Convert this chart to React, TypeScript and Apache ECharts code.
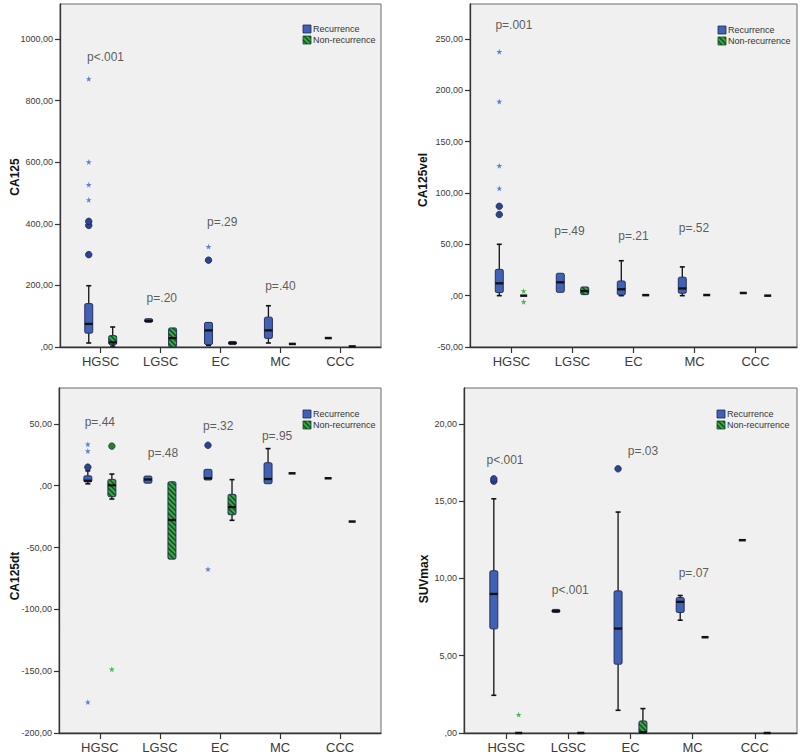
import React, { useEffect, useRef } from 'react';
import * as echarts from 'echarts';

const categories = ['HGSC', 'LGSC', 'EC', 'MC', 'CCC'];
const groups = ['Recurrence', 'Non-recurrence'];

// Box stats per category: [min, q1, median, q3, max]
const ca125Rec = [[13, 45, 75, 141, 199], [80, 80, 85, 92, 92], [5, 8, 54, 80, 80], [13, 28, 54, 97, 134], [29, 29, 29, 29, 29]];
const ca125Non = [[3, 8, 15, 37, 65], [0, 0, 29, 62, 62], [8, 8, 13, 18, 18], [10, 10, 10, 10, 10], [2, 2, 2, 2, 2]];
const ca125RecCircles = [['HGSC', 300], ['HGSC', 395], ['HGSC', 408], ['EC', 282]];
const ca125RecStars = [['HGSC', 478], ['HGSC', 527], ['HGSC', 601], ['HGSC', 871], ['EC', 326]];
const ca125NonCircles: any[] = [];
const ca125NonStars: any[] = [];
const ca125PText = ['p<.001', 'p=.20', 'p=.29', 'p=.40'];
const ca125PAt = [[0.08, 942], [1.02, 159], [2.03, 406], [3.0, 198]];
const ca125Ticks = [0, 200, 400, 600, 800, 1000];

const velRec = [[0, 3, 12, 25.6, 50], [3.2, 3.2, 13, 21.8, 21.8], [0, 0.6, 6.2, 14.3, 34], [0, 2.3, 7, 18, 28], [2.6, 2.6, 2.6, 2.6, 2.6]];
const velNon = [[0, 0, 0, 0, 0], [1, 1, 4.5, 8.5, 8.5], [0.5, 0.5, 0.5, 0.5, 0.5], [0.6, 0.6, 0.6, 0.6, 0.6], [0, 0, 0, 0, 0]];
const velRecCircles = [['HGSC', 79], ['HGSC', 87]];
const velRecStars = [['HGSC', 104.5], ['HGSC', 126.6], ['HGSC', 189], ['HGSC', 237.6]];
const velNonCircles: any[] = [];
const velNonStars = [['HGSC', 4.5], ['HGSC', -6]];
const velPText = ['p=.001', 'p=.49', 'p=.21', 'p=.52'];
const velPAt = [[0.04, 264], [0.95, 63], [2.0, 58], [2.99, 66]];
const velTicks = [-50, 0, 50, 100, 150, 200, 250];

const dtRec = [[1.5, 3, 4, 8, 12], [2, 2, 5, 7.8, 7.8], [4.6, 4.6, 6, 13.2, 13.2], [1.6, 1.6, 5.4, 18.6, 30], [6, 6, 6, 6, 6]];
const dtNon = [[-10.8, -8.9, 0.3, 5.1, 9.4], [-59.4, -59.4, -27.8, 3.2, 3.2], [-28, -23.5, -17.3, -7, 4.9], [10, 10, 10, 10, 10], [-29, -29, -29, -29, -29]];
const dtRecCircles = [['HGSC', 15], ['EC', 32.7]];
const dtRecStars = [['HGSC', 28], ['HGSC', 33.5], ['HGSC', -175], ['EC', -67.5]];
const dtNonCircles = [['HGSC', 32]];
const dtNonStars = [['HGSC', -148.5]];
const dtPText = ['p=.44', 'p=.48', 'p=.32', 'p=.95'];
const dtPAt = [[0.0, 51.5], [1.05, 26.5], [1.97, 48.3], [2.95, 40.2]];
const dtTicks = [-200, -150, -100, -50, 0, 50];

const suvRec = [[2.44, 6.74, 9.0, 10.5, 15.16], [7.8, 7.8, 7.9, 8.0, 8.0], [1.47, 4.45, 6.76, 9.2, 14.3], [7.3, 7.8, 8.49, 8.77, 8.9], [12.48, 12.48, 12.48, 12.48, 12.48]];
const suvNon = [[0, 0, 0, 0, 0], [0, 0, 0, 0, 0], [0, 0, 0.05, 0.78, 1.58], [6.2, 6.2, 6.2, 6.2, 6.2], [0, 0, 0, 0, 0]];
const suvRecCircles = [['HGSC', 16.3], ['HGSC', 16.45], ['EC', 17.1]];
const suvRecStars: any[] = [];
const suvNonCircles: any[] = [];
const suvNonStars = [['HGSC', 1.19]];
const suvPText = ['p<.001', 'p<.001', 'p=.03', 'p=.07'];
const suvPAt = [[-0.02, 17.7], [1.03, 9.26], [2.2, 18.25], [3.02, 10.36]];
const suvTicks = [0, 5, 10, 15, 20];

const panelData = [
  { name: 'CA125', rec: ca125Rec, non: ca125Non, recC: ca125RecCircles, recS: ca125RecStars, nonC: ca125NonCircles, nonS: ca125NonStars, pText: ca125PText, pAt: ca125PAt, ticks: ca125Ticks, min: 0, max: 1114 },
  { name: 'CA125vel', rec: velRec, non: velNon, recC: velRecCircles, recS: velRecStars, nonC: velNonCircles, nonS: velNonStars, pText: velPText, pAt: velPAt, ticks: velTicks, min: -50, max: 284 },
  { name: 'CA125dt', rec: dtRec, non: dtNon, recC: dtRecCircles, recS: dtRecStars, nonC: dtNonCircles, nonS: dtNonStars, pText: dtPText, pAt: dtPAt, ticks: dtTicks, min: -200, max: 79 },
  { name: 'SUVmax', rec: suvRec, non: suvNon, recC: suvRecCircles, recS: suvRecStars, nonC: suvNonCircles, nonS: suvNonStars, pText: suvPText, pAt: suvPAt, ticks: suvTicks, min: 0, max: 22.33 },
];

// Layout / style
const LAYOUT = [
  { left: 60, top: 4, width: 321, height: 343, nameX: 15, nameY: 177, legX: 303, legY: 25 },
  { left: 470, top: 4, width: 327, height: 343, nameX: 423, nameY: 180, legX: 718, legY: 26 },
  { left: 59, top: 388, width: 322, height: 345, nameX: 15, nameY: 576, legX: 303, legY: 410 },
  { left: 464, top: 388, width: 333, height: 345, nameX: 424, nameY: 579, legX: 717, legY: 410 },
];
const FONT = '"Liberation Sans", Arial, sans-serif';
const BLUE = '#4162b4';
const BOX_STROKE = '#1c2650';
const CIRCLE = '#2d4494';
const STAR_BLUE = '#5b80d8';
const STAR_GREEN = '#45bb55';
const AXIS = '#333';
const OFFSET = 0.2;
const BOX_W = 8;
const STAR = 'path://M50 0L61 35L98 35L68 57L79 91L50 70L21 91L32 57L2 35L39 35Z';

function makeHatch(): any {
  const c = document.createElement('canvas');
  c.width = 5;
  c.height = 5;
  const ctx = c.getContext('2d')!;
  ctx.fillStyle = '#38a848';
  ctx.fillRect(0, 0, 5, 5);
  ctx.strokeStyle = '#144a1e';
  ctx.lineWidth = 1.4;
  ctx.beginPath();
  ctx.moveTo(-1, -1); ctx.lineTo(6, 6);
  ctx.moveTo(-3.5, 1.5); ctx.lineTo(3.5, 8.5);
  ctx.moveTo(1.5, -3.5); ctx.lineTo(8.5, 3.5);
  ctx.stroke();
  return { image: c, repeat: 'repeat', imageWidth: 5, imageHeight: 5 };
}

function fmt(v: number) {
  if (v === 0) return ',00';
  return v.toFixed(2).replace('.', ',');
}

function makeRenderItem(hatch: any) {
  return (params: any, api: any) => {
    const x = api.value(0);
    const lo = api.coord([x, api.value(1)]);
    const q1 = api.coord([x, api.value(2)]);
    const md = api.coord([x, api.value(3)]);
    const q3 = api.coord([x, api.value(4)]);
    const hi = api.coord([x, api.value(5)]);
    const kind = api.value(6);
    const cx = md[0];
    const hw = BOX_W / 2;
    const children: any[] = [];
    const line = (x1: number, y1: number, x2: number, y2: number, w: number) => ({
      type: 'line', shape: { x1, y1, x2, y2 }, style: { stroke: '#111', lineWidth: w },
    });
    if (Math.abs(lo[1] - hi[1]) < 0.6) {
      children.push(line(cx - 3.5, md[1], cx + 3.5, md[1], 2.5));
      return { type: 'group', children };
    }
    if (q3[1] - hi[1] > 0.5) {
      children.push(line(cx, hi[1], cx, q3[1], 1.3));
      children.push(line(cx - 2.5, hi[1], cx + 2.5, hi[1], 1.6));
    }
    if (lo[1] - q1[1] > 0.5) {
      children.push(line(cx, q1[1], cx, lo[1], 1.3));
      children.push(line(cx - 2.5, lo[1], cx + 2.5, lo[1], 1.6));
    }
    const h = Math.max(q1[1] - q3[1], 2);
    children.push({
      type: 'rect',
      shape: { x: cx - hw, y: q3[1], width: BOX_W, height: h, r: 1.5 },
      style: { fill: kind === 0 ? BLUE : hatch, stroke: BOX_STROKE, lineWidth: 0.9 },
    });
    children.push(line(cx - hw, md[1], cx + hw, md[1], 2.3));
    return { type: 'group', children };
  };
}

export default function App() {
  const ref = useRef<HTMLDivElement>(null);
  useEffect(() => {
    if (!ref.current) return;
    const chart = echarts.init(ref.current, null, { renderer: 'svg' });
    const hatch = makeHatch();
    const renderItem = makeRenderItem(hatch);

    const grid: any[] = [];
    const xAxis: any[] = [];
    const yAxis: any[] = [];
    const series: any[] = [];
    const graphic: any[] = [];

    panelData.forEach((p, i) => {
      const L = LAYOUT[i];
      grid.push({
        left: L.left, top: L.top, width: L.width, height: L.height,
        show: true, backgroundColor: '#f0f0f0', borderColor: '#6a6a6a', borderWidth: 1,
      });
      xAxis.push({
        type: 'value', gridIndex: i, min: -0.68, max: 4.68,
        splitLine: { show: false },
        axisLine: { show: true, onZero: false, lineStyle: { color: AXIS, width: 1.3 } },
        axisTick: { show: true, customValues: [0, 1, 2, 3, 4], length: 6, lineStyle: { color: AXIS, width: 1.2 } },
        axisLabel: {
          customValues: [0, 1, 2, 3, 4], margin: 8, fontSize: 13, color: '#3a3a3a', fontFamily: FONT,
          formatter: (v: number) => categories[Math.round(v)] ?? '',
        },
      });
      yAxis.push({
        type: 'value', gridIndex: i, min: p.min, max: p.max,
        splitLine: { show: false },
        axisLine: { show: true, onZero: false, lineStyle: { color: AXIS, width: 1.3 } },
        axisTick: { show: true, customValues: p.ticks, length: 5, lineStyle: { color: AXIS, width: 1.2 } },
        axisLabel: {
          customValues: p.ticks, margin: 7, fontSize: 9, color: '#3a3a3a', fontFamily: FONT,
          formatter: (v: number) => fmt(v),
        },
      });

      const boxData: any[] = [];
      p.rec.forEach((b, c) => boxData.push([c - OFFSET, ...b, 0]));
      p.non.forEach((b, c) => boxData.push([c + OFFSET, ...b, 1]));
      series.push({
        type: 'custom', xAxisIndex: i, yAxisIndex: i, silent: true,
        renderItem, data: boxData, encode: { x: 0, y: [1, 2, 3, 4, 5] }, z: 2,
      });

      const pts = (arr: any[], off: number) => arr.map((d) => [categories.indexOf(d[0]) + off, d[1]]);
      series.push({
        type: 'scatter', xAxisIndex: i, yAxisIndex: i, silent: true, z: 3,
        symbol: 'circle', symbolSize: 6.5,
        itemStyle: { color: CIRCLE, borderColor: BOX_STROKE, borderWidth: 0.8, opacity: 1 },
        data: pts(p.recC, -OFFSET),
      });
      series.push({
        type: 'scatter', xAxisIndex: i, yAxisIndex: i, silent: true, z: 3,
        symbol: 'circle', symbolSize: 6.5,
        itemStyle: { color: '#2c7a3a', borderColor: '#134a1c', borderWidth: 0.8, opacity: 1 },
        data: pts(p.nonC, OFFSET),
      });
      series.push({
        type: 'scatter', xAxisIndex: i, yAxisIndex: i, silent: true, z: 3,
        symbol: STAR, symbolSize: 6,
        itemStyle: { color: STAR_BLUE, opacity: 1 },
        data: pts(p.recS, -OFFSET),
      });
      series.push({
        type: 'scatter', xAxisIndex: i, yAxisIndex: i, silent: true, z: 3,
        symbol: STAR, symbolSize: 6,
        itemStyle: { color: STAR_GREEN, opacity: 1 },
        data: pts(p.nonS, OFFSET),
      });
      series.push({
        type: 'scatter', xAxisIndex: i, yAxisIndex: i, silent: true, z: 4,
        symbolSize: 1, itemStyle: { color: 'rgba(0,0,0,0)' },
        label: {
          show: true, position: 'inside', fontSize: 12, color: '#333', fontFamily: FONT,
          formatter: (q: any) => q.data[2],
        },
        data: p.pAt.map((a, k) => [a[0], a[1], p.pText[k]]),
      });

      graphic.push({
        type: 'text', x: L.nameX, y: L.nameY, rotation: Math.PI / 2,
        style: {
          text: p.name, fontSize: 12, fontWeight: 'bold', fill: '#111', fontFamily: FONT,
          textAlign: 'center', textVerticalAlign: 'middle',
        },
      });
      graphic.push({
        type: 'group', x: L.legX, y: L.legY,
        children: [
          { type: 'rect', shape: { x: 0, y: 0, width: 8, height: 8 }, style: { fill: BLUE, stroke: BOX_STROKE, lineWidth: 0.8 } },
          { type: 'text', x: 10, y: 4, style: { text: groups[0], fontSize: 9, fill: '#333', fontFamily: FONT, textVerticalAlign: 'middle' } },
          { type: 'rect', shape: { x: 0, y: 11, width: 8, height: 8 }, style: { fill: hatch, stroke: '#134a1c', lineWidth: 0.8 } },
          { type: 'text', x: 10, y: 15, style: { text: groups[1], fontSize: 9, fill: '#333', fontFamily: FONT, textVerticalAlign: 'middle' } },
        ],
      });
    });

    chart.setOption({
      animation: false,
      backgroundColor: '#ffffff',
      grid, xAxis, yAxis, series, graphic,
    });
    return () => chart.dispose();
  }, []);
  return <div ref={ref} style={{ position: 'fixed', left: 0, top: 0, width: 800, height: 756 }} />;
}
